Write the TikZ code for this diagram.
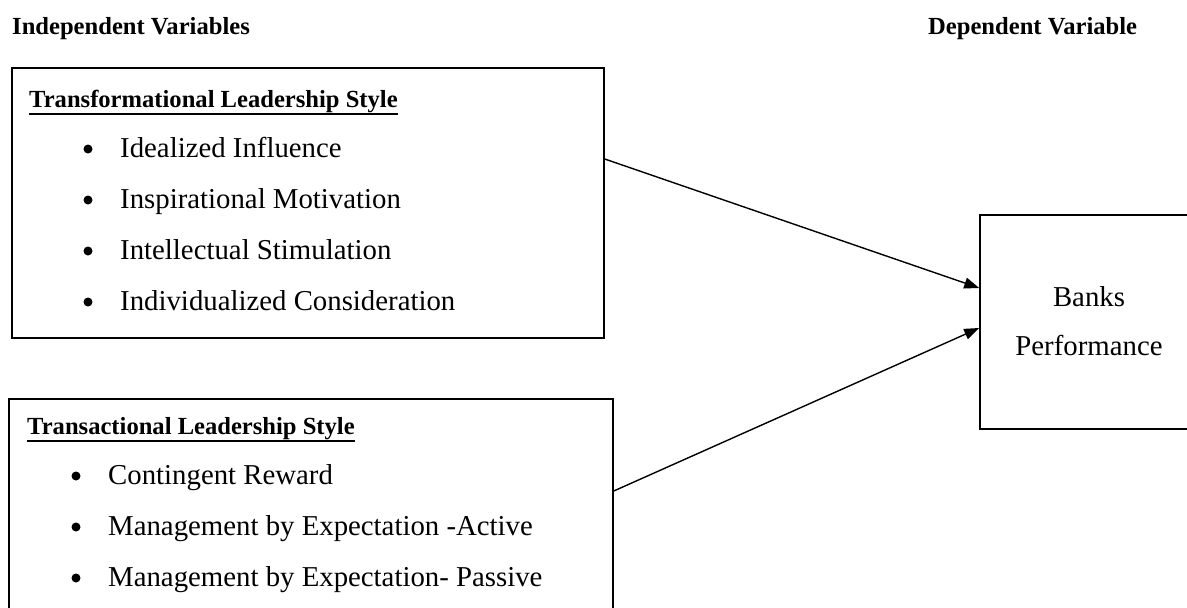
\documentclass[tikz,border=0pt]{standalone}
\usepackage{fontspec}
\setmainfont{Liberation Serif}
\usetikzlibrary{arrows.meta}
\tikzset{
  frame/.style={draw, line width=1.5pt, inner sep=0pt},
  head/.style={anchor=base west, inner sep=0pt, font=\fontsize{24.6}{28}\selectfont\bfseries},
  item/.style={anchor=base west, inner sep=0pt, font=\fontsize{28.8}{34}\selectfont},
  dot/.style={circle, fill, inner sep=0pt, minimum size=9pt},
  uline/.style={line width=1.9pt},
  link/.style={line width=1.4pt, -{Triangle[length=15pt,width=11pt]}}
}
\begin{document}
\begin{tikzpicture}[x=1pt,y=-1pt]
\useasboundingbox (0,0) rectangle (1187,608);
% headings
\node[head] (hind) at (12,34) {Independent Variables};
\node[head] (hdep) at (928,34) {Dependent Variable};
% box 1
\node[frame, minimum width=592pt, minimum height=270pt] (b1) at (308,203) {};
\node[head] (t1) at (29,107) {Transformational Leadership Style};
\draw[uline] ([yshift=-7pt]t1.base west) -- ([yshift=-7pt]t1.base east);
\node[dot] (d11) at (88,149) {};
\node[item] (i11) at (120,157) {Idealized Influence};
\node[dot] (d12) at (88,200) {};
\node[item] (i12) at (120,208) {Inspirational Motivation};
\node[dot] (d13) at (88,251) {};
\node[item] (i13) at (120,259) {Intellectual Stimulation};
\node[dot] (d14) at (88,302) {};
\node[item] (i14) at (120,310) {Individualized Consideration};
% box 2
\node[frame, minimum width=604pt, minimum height=221pt] (b2) at (311,509.5) {};
\node[head] (t2) at (27,434) {Transactional Leadership Style};
\draw[uline] ([yshift=-7pt]t2.base west) -- ([yshift=-7pt]t2.base east);
\node[dot] (d21) at (76,476) {};
\node[item] (i21) at (108,484) {Contingent Reward};
\node[dot] (d22) at (76,527) {};
\node[item] (i22) at (108,535) {Management by Expectation -Active};
\node[dot] (d23) at (76,578) {};
\node[item] (i23) at (108,586) {Management by Expectation- Passive};
% box 3
\node[frame, minimum width=220pt, minimum height=214pt] (b3) at (1090,322) {};
\node[item, anchor=base] (k1) at (1089,306) {Banks};
\node[item, anchor=base] (k2) at (1089,355) {Performance};
% connectors
\draw[link] ([yshift=44pt]b1.east) -- ([yshift=34pt]b3.west);
\draw[link] ([yshift=18.5pt]b2.east) -- ([yshift=-6pt]b3.west);
\end{tikzpicture}
\end{document}
